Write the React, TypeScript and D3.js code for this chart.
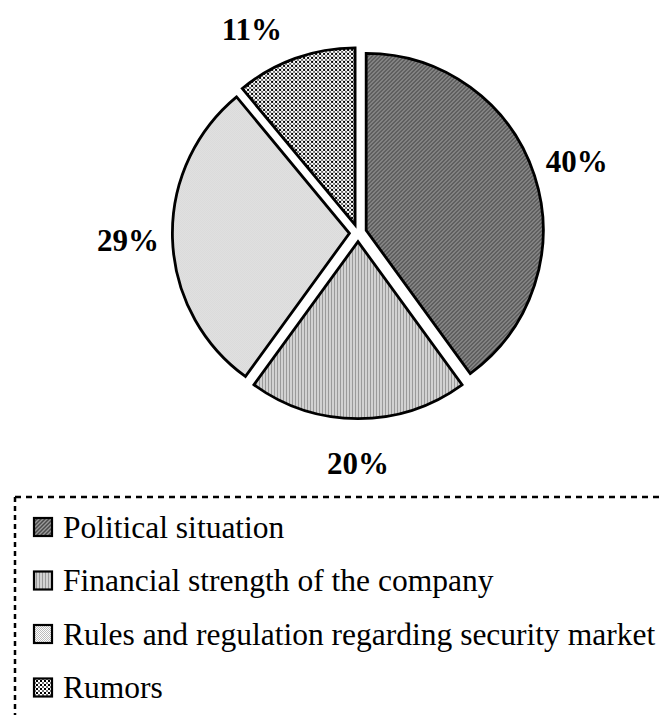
import React from "react";
import * as d3 from "d3";

const categories = [
  "Political situation",
  "Financial strength of the company",
  "Rules and regulation regarding security market",
  "Rumors",
];
const values = [40, 20, 29, 11];
const labels = ["40%", "20%", "29%", "11%"];
const patternIds = ["pPolitical", "pFinancial", "pRules", "pRumors"];

const W = 664;
const H = 715;
const CX = 358;
const CY = 233;
const R = 177;
const EXPLODE = 8.6;
const LABEL_R = 230;
const LABEL_MIN_CY = 29;

export default function App() {
  const pie = d3.pie<number>().sort(null).value((d) => d);
  const arcs = pie(values);
  const arcGen = d3.arc<d3.PieArcDatum<number>>().innerRadius(0).outerRadius(R);

  const legendY = d3.scaleLinear().domain([0, 1]).range([527, 580.5]);

  return (
    <svg
      width={W}
      height={H}
      style={{ position: "absolute", left: 0, top: 0, background: "#fff" }}
      fontFamily="'Liberation Serif', 'Times New Roman', serif"
    >
      <defs>
        <pattern id="pPolitical" width="4" height="4" patternUnits="userSpaceOnUse">
          <rect width="4" height="4" fill="#9a9a9a" />
          <path d="M0,4 L4,0 M-1,1 L1,-1 M3,5 L5,3" stroke="#4a4a4a" strokeWidth="1.5" />
        </pattern>
        <pattern id="pFinancial" width="3" height="3" patternUnits="userSpaceOnUse">
          <rect width="3" height="3" fill="#d2d2d2" />
          <rect x="0" width="1" height="3" fill="#9a9a9a" />
        </pattern>
        <pattern id="pRules" width="2" height="2" patternUnits="userSpaceOnUse">
          <rect width="2" height="2" fill="#ffffff" />
          <rect x="0" y="0" width="1" height="1" fill="#bcbcbc" />
          <rect x="1" y="1" width="1" height="1" fill="#bcbcbc" />
        </pattern>
        <pattern id="pRumors" width="4" height="4" patternUnits="userSpaceOnUse">
          <rect width="4" height="4" fill="#ffffff" />
          <rect x="0" y="0" width="2" height="2" fill="#000000" />
          <rect x="2" y="2" width="2" height="2" fill="#707070" />
        </pattern>
      </defs>

      {arcs.map((a, i) => {
        const mid = (a.startAngle + a.endAngle) / 2;
        const dx = Math.sin(mid) * EXPLODE;
        const dy = -Math.cos(mid) * EXPLODE;
        return (
          <path
            key={categories[i]}
            d={arcGen(a) || ""}
            transform={`translate(${CX + dx},${CY + dy})`}
            fill={`url(#${patternIds[i]})`}
            stroke="#000"
            strokeWidth={2.8}
            strokeLinejoin="miter"
          />
        );
      })}

      {arcs.map((a, i) => {
        const mid = (a.startAngle + a.endAngle) / 2;
        let lx = Math.sin(mid) * LABEL_R;
        let ly = -Math.cos(mid) * LABEL_R;
        if (CY + ly < LABEL_MIN_CY) {
          ly = LABEL_MIN_CY - CY;
          const sx = Math.sign(lx) || 1;
          lx = sx * Math.sqrt(Math.max(0, LABEL_R * LABEL_R - ly * ly));
        }
        return (
          <text
            key={labels[i]}
            x={CX + lx}
            y={CY + ly}
            textAnchor="middle"
            dominantBaseline="central"
            fontSize={31}
            fontWeight="bold"
            fill="#000"
          >
            {labels[i]}
          </text>
        );
      })}

      <g>
        <line x1={15} y1={497} x2={W} y2={497} stroke="#000" strokeWidth={2.5} strokeDasharray="6,5" />
        <line x1={15} y1={497} x2={15} y2={H} stroke="#000" strokeWidth={2.5} strokeDasharray="5,4" />
        {categories.map((c, i) => {
          const y = legendY(i);
          return (
            <g key={c}>
              <rect
                x={34}
                y={y - 9}
                width={18}
                height={18}
                fill={`url(#${patternIds[i]})`}
                stroke="#000"
                strokeWidth={2.2}
              />
              <text x={63} y={y} dominantBaseline="central" fontSize={31.5} fill="#000">
                {c}
              </text>
            </g>
          );
        })}
      </g>
    </svg>
  );
}
